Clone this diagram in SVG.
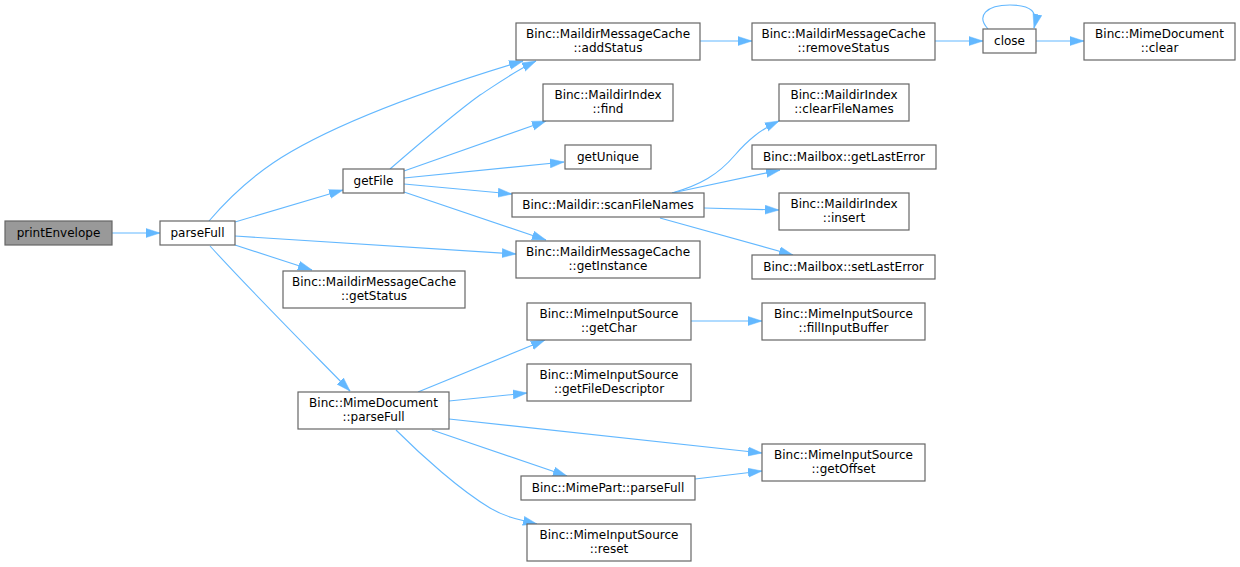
<svg xmlns="http://www.w3.org/2000/svg" width="1240" height="567" viewBox="0 0 1240 567">
<style>
.n rect{fill:#ffffff;stroke:#666666;stroke-width:1.2}
.n.root rect{fill:#999999}
.n text{font-family:"DejaVu Sans","Liberation Sans",sans-serif;font-size:12px;fill:#000000;text-anchor:middle}
.e path{fill:none;stroke:#63b8ff;stroke-width:1.1;marker-end:url(#arr)}
</style>
<defs>
<marker id="arr" markerUnits="userSpaceOnUse" markerWidth="15" markerHeight="11" refX="14" refY="5" orient="auto">
<path d="M0,0.5 L14,5 L0,9.5 z" fill="#63b8ff" stroke="#63b8ff" stroke-width="0.5"/>
</marker>
</defs>
<rect width="1240" height="567" fill="#ffffff"/>
<g id="connectors" class="e">
<path d="M112,233 L160,233"/>
<path d="M209,221 C226,201 248,180 273,163 C330,125 420,92 523,61"/>
<path d="M235,222 L343,190"/>
<path d="M235,236 L516,254"/>
<path d="M235,245 L312,270"/>
<path d="M210,246 C250,290 300,340 350,391"/>
<path d="M390,169 C420,143 455,113 480,95 C500,82 515,71 536,61"/>
<path d="M404,171 L546,121"/>
<path d="M404,178 L564,162"/>
<path d="M404,184 L512,194"/>
<path d="M404,192 L546,240"/>
<path d="M672,193 C700,185 718,175 735,155 C748,140 760,130 779,121"/>
<path d="M672,193 L780,170"/>
<path d="M704,208 L779,210"/>
<path d="M660,218 L793,255"/>
<path d="M700,41 L752,41"/>
<path d="M935,41 L983,41"/>
<path d="M988,29 C976,16 986,5 1010,5 C1032,5 1038,12 1034,28"/>
<path d="M1036,41 L1084,41"/>
<path d="M691,321 L762,321"/>
<path d="M418,392 L545,340"/>
<path d="M449,401 L527,393"/>
<path d="M449,419 L762,453"/>
<path d="M432,430 L567,476"/>
<path d="M396,430 C422,456 460,490 490,508 C505,517 520,520 537,524"/>
<path d="M695,479 L762,471"/>
</g>
<g id="printEnvelope" class="n root"><rect x="5" y="221" width="107" height="24"/><text x="58.5" y="237">printEnvelope</text></g>
<g id="parseFull" class="n"><rect x="160" y="221" width="75" height="24"/><text x="197.5" y="237">parseFull</text></g>
<g id="getFile" class="n"><rect x="343" y="169" width="61" height="24"/><text x="373.5" y="185">getFile</text></g>
<g id="addStatus" class="n"><rect x="516" y="23" width="184" height="37"/><text x="608" y="38">Binc::MaildirMessageCache</text><text x="608" y="52">::addStatus</text></g>
<g id="find" class="n"><rect x="543" y="84" width="130" height="37"/><text x="608" y="99">Binc::MaildirIndex</text><text x="608" y="113">::find</text></g>
<g id="getUnique" class="n"><rect x="565" y="145" width="86" height="24"/><text x="608" y="161">getUnique</text></g>
<g id="scanFileNames" class="n"><rect x="512" y="193" width="192" height="24"/><text x="608" y="209">Binc::Maildir::scanFileNames</text></g>
<g id="getInstance" class="n"><rect x="516" y="241" width="184" height="37"/><text x="608" y="256">Binc::MaildirMessageCache</text><text x="608" y="270">::getInstance</text></g>
<g id="getStatus" class="n"><rect x="283" y="271" width="182" height="37"/><text x="374" y="286">Binc::MaildirMessageCache</text><text x="374" y="300">::getStatus</text></g>
<g id="mimeDocParseFull" class="n"><rect x="298" y="392" width="151" height="37"/><text x="373.5" y="407">Binc::MimeDocument</text><text x="373.5" y="421">::parseFull</text></g>
<g id="removeStatus" class="n"><rect x="752" y="23" width="183" height="37"/><text x="843.5" y="38">Binc::MaildirMessageCache</text><text x="843.5" y="52">::removeStatus</text></g>
<g id="close" class="n"><rect x="983" y="29" width="53" height="24"/><text x="1009.5" y="45">close</text></g>
<g id="clear" class="n"><rect x="1084" y="23" width="151" height="37"/><text x="1159.5" y="38">Binc::MimeDocument</text><text x="1159.5" y="52">::clear</text></g>
<g id="clearFileNames" class="n"><rect x="779" y="84" width="130" height="37"/><text x="844" y="99">Binc::MaildirIndex</text><text x="844" y="113">::clearFileNames</text></g>
<g id="getLastError" class="n"><rect x="752" y="145" width="184" height="24"/><text x="844" y="161">Binc::Mailbox::getLastError</text></g>
<g id="insert" class="n"><rect x="779" y="193" width="130" height="37"/><text x="844" y="208">Binc::MaildirIndex</text><text x="844" y="222">::insert</text></g>
<g id="setLastError" class="n"><rect x="752" y="255" width="183" height="24"/><text x="843.5" y="271">Binc::Mailbox::setLastError</text></g>
<g id="getChar" class="n"><rect x="527" y="303" width="164" height="37"/><text x="609" y="318">Binc::MimeInputSource</text><text x="609" y="332">::getChar</text></g>
<g id="getFileDescriptor" class="n"><rect x="527" y="364" width="164" height="37"/><text x="609" y="379">Binc::MimeInputSource</text><text x="609" y="393">::getFileDescriptor</text></g>
<g id="mimePartParseFull" class="n"><rect x="521" y="476" width="174" height="24"/><text x="608" y="492">Binc::MimePart::parseFull</text></g>
<g id="reset" class="n"><rect x="527" y="524" width="164" height="37"/><text x="609" y="539">Binc::MimeInputSource</text><text x="609" y="553">::reset</text></g>
<g id="fillInputBuffer" class="n"><rect x="762" y="303" width="163" height="37"/><text x="843.5" y="318">Binc::MimeInputSource</text><text x="843.5" y="332">::fillInputBuffer</text></g>
<g id="getOffset" class="n"><rect x="762" y="444" width="163" height="37"/><text x="843.5" y="459">Binc::MimeInputSource</text><text x="843.5" y="473">::getOffset</text></g>
</svg>
